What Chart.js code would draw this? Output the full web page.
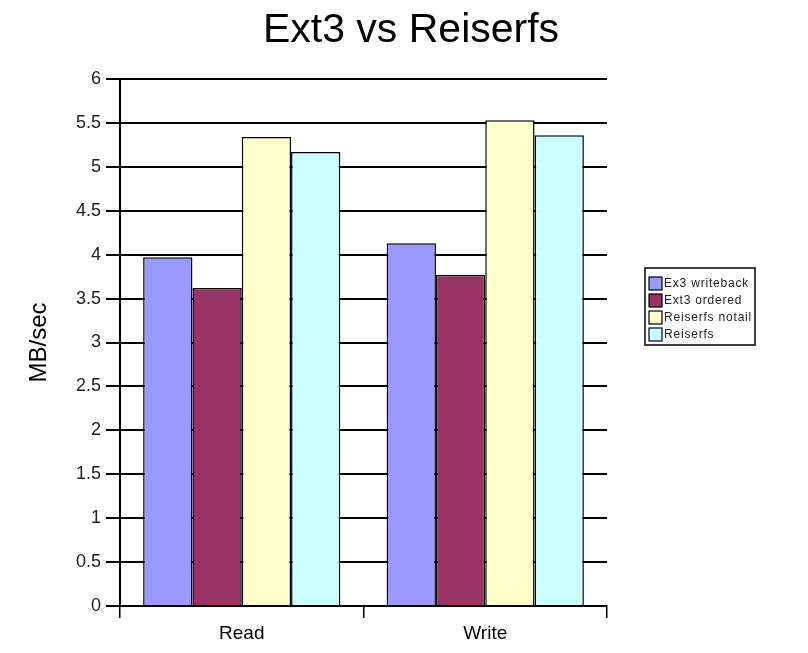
<!DOCTYPE html>
<html>
<head>
<meta charset="utf-8">
<script src="https://cdn.jsdelivr.net/npm/chart.js@4/dist/chart.umd.min.js"></script>
<style>
html,body{margin:0;padding:0;background:#fff;}
#wrap{width:808px;height:653px;}
</style>
</head>
<body>
<div id="wrap"><canvas id="c" width="808" height="653"></canvas></div>
<script>
const categories = ["Read", "Write"];
const seriesNames = ["Ex3 writeback", "Ext3 ordered", "Reiserfs notail", "Reiserfs"];
const ext3Writeback = [3.97, 4.13];
const ext3Ordered = [3.62, 3.77];
const reiserfsNotail = [5.34, 5.53];
const reiserfs = [5.17, 5.36];
const yTicks = [0, 0.5, 1, 1.5, 2, 2.5, 3, 3.5, 4, 4.5, 5, 5.5, 6];
const yTickLabels = ["0", "0.5", "1", "1.5", "2", "2.5", "3", "3.5", "4", "4.5", "5", "5.5", "6"];
const chartTitle = "Ext3 vs Reiserfs";
const colors = ["#9999FF", "#993366", "#FFFFCC", "#CCFFFF"];
const seriesValues = [ext3Writeback, ext3Ordered, reiserfsNotail, reiserfs];

const FONT = "'Liberation Sans', Arial, sans-serif";

const decorPlugin = {
  id: 'decor',
  afterDraw(chart) {
    const ctx = chart.ctx;
    ctx.save();
    // title
    ctx.fillStyle = '#000';
    ctx.font = "41px " + FONT;
    ctx.textAlign = 'center';
    ctx.textBaseline = 'middle';
    ctx.fillText(chartTitle, 411, 31);
    // legend
    const x0 = 645, y0 = 268, w = 110, h = 77;
    ctx.fillStyle = '#fff';
    ctx.fillRect(x0, y0, w, h);
    ctx.strokeStyle = '#000';
    ctx.lineWidth = 1.5;
    ctx.strokeRect(x0, y0, w, h);
    ctx.font = "12px " + FONT;
    ctx.textAlign = 'left';
    ctx.textBaseline = 'middle';
    try { ctx.letterSpacing = '0.8px'; } catch (e) {}
    chart.data.datasets.forEach((ds, i) => {
      const cy = y0 + 15 + i * 17;
      ctx.fillStyle = ds.backgroundColor;
      ctx.fillRect(x0 + 4, cy - 6, 13, 13);
      ctx.strokeStyle = '#000';
      ctx.lineWidth = 1.2;
      ctx.strokeRect(x0 + 4, cy - 6, 13, 13);
      ctx.fillStyle = '#222';
      ctx.fillText(ds.label, x0 + 19, cy + 1);
    });
    ctx.restore();
  }
};

new Chart(document.getElementById('c'), {
  type: 'bar',
  data: {
    labels: categories,
    datasets: seriesNames.map((n, i) => ({
      label: n,
      data: seriesValues[i],
      backgroundColor: colors[i],
      borderColor: '#000',
      borderWidth: 1.5,
      categoryPercentage: 0.81,
      barPercentage: 1.0
    }))
  },
  options: {
    responsive: false,
    animation: false,
    layout: { padding: { left: 25, right: 201, top: 79, bottom: 0 } },
    plugins: {
      legend: { display: false },
      tooltip: { enabled: false },
      title: { display: false }
    },
    scales: {
      x: {
        grid: { display: true, drawOnChartArea: false, color: '#000', lineWidth: 1.5, tickLength: 12, offset: true },
        border: { display: true, color: '#000', width: 2 },
        ticks: { color: '#000', font: { family: FONT, size: 19 }, padding: 4 },
        afterFit(s) { s.height = 47; }
      },
      y: {
        min: 0, max: 6,
        afterBuildTicks(s) { s.ticks = yTicks.map(v => ({ value: v })); },
        grid: { color: '#000', lineWidth: 2, tickLength: 14 },
        border: { display: true, color: '#000', width: 2 },
        ticks: {
          color: '#222', font: { family: FONT, size: 18 }, padding: 5,
          callback(v, i) { return yTickLabels[i]; }
        },
        title: { display: true, text: 'MB/sec', color: '#000', font: { family: FONT, size: 24 }, padding: 0 },
        afterFit(s) { s.width = 95; }
      }
    }
  },
  plugins: [decorPlugin]
});
</script>
</body>
</html>
